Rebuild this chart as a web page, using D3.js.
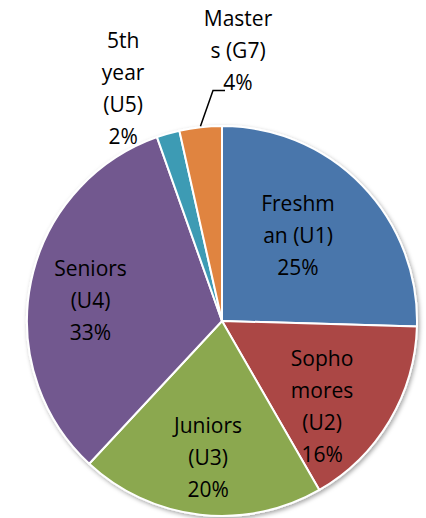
<!DOCTYPE html>
<html>
<head>
<meta charset="utf-8">
<script src="https://cdn.jsdelivr.net/npm/d3@7"></script>
<style>
  html, body { margin: 0; padding: 0; background: #fff; }
  text { font-family: "Open Sans", sans-serif; }
</style>
</head>
<body>
<div id="container"></div>
<script>
const WIDTH = 426;
const HEIGHT = 518;
const CX = 222;
const CY = 321;
const RADIUS = 195;
const LINE_HEIGHT = 32;

// data, clockwise from 12 o'clock
var categories = ["Freshman (U1)", "Sophomores (U2)", "Juniors (U3)", "Seniors (U4)", "5th year (U5)", "Masters (G7)"];
var shares = [25.4, 16.2, 20.2, 32.6, 1.9, 3.5];
var percentLabels = ["25%", "16%", "20%", "33%", "2%", "4%"];
// category names as wrapped by the chart
var nameLines = [["Freshm", "an (U1)"], ["Sopho", "mores", "(U2)"], ["Juniors", "(U3)"], ["Seniors", "(U4)"], ["5th", "year", "(U5)"], ["Master", "s (G7)"]];

var colors = ["#4876ab", "#ab4745", "#8ba84f", "#72598f", "#3e9bb4", "#e0843f"];
// label centre in polar coords around the pie centre: angle (deg, clockwise from top), distance (px)
var labelPlace = [[41.8, 114], [130.7, 132], [185.8, 138], [278.6, 133], [336.9, 252], [3.4, 270]];

var svg = d3.select("#container").append("svg")
    .attr("width", WIDTH)
    .attr("height", HEIGHT);

var defs = svg.append("defs");
var shadow = defs.append("filter").attr("id", "shadow")
    .attr("x", "-10%").attr("y", "-10%").attr("width", "120%").attr("height", "120%");
shadow.append("feDropShadow")
    .attr("dx", 1.5).attr("dy", 2).attr("stdDeviation", 2.2)
    .attr("flood-color", "#000").attr("flood-opacity", 0.35);

var pie = d3.pie().sort(null).value(function (d) { return d; });
var arcs = pie(shares);
var arc = d3.arc().innerRadius(0).outerRadius(RADIUS);

var g = svg.append("g").attr("transform", "translate(" + CX + "," + CY + ")");

g.append("g").attr("filter", "url(#shadow)")
    .selectAll("path")
    .data(arcs)
    .enter().append("path")
    .attr("d", arc)
    .attr("fill", function (d, i) { return colors[i]; })
    .attr("stroke", "#fff")
    .attr("stroke-width", 2)
    .attr("stroke-linejoin", "round");

var polar = function (deg, r) {
    var a = deg * Math.PI / 180;
    return [r * Math.sin(a), -r * Math.cos(a)];
};

var labels = g.selectAll(".label")
    .data(arcs)
    .enter().append("text")
    .attr("class", "label")
    .attr("text-anchor", "middle")
    .attr("font-size", 21)
    .attr("fill", "#000");

labels.each(function (d, i) {
    var lines = nameLines[i].concat([percentLabels[i]]);
    var p = polar(labelPlace[i][0], labelPlace[i][1]);
    var firstBaseline = p[1] - (lines.length - 1) * LINE_HEIGHT / 2 + 7;
    var t = d3.select(this);
    lines.forEach(function (line, k) {
        t.append("tspan")
            .attr("x", p[0])
            .attr("y", firstBaseline + k * LINE_HEIGHT)
            .text(line);
    });
});

// leader line for the small Masters slice
var mi = 5;
var mid = (arcs[mi].startAngle + arcs[mi].endAngle) / 2 * 180 / Math.PI;
var start = polar(mid, RADIUS + 1);
var lp = polar(labelPlace[mi][0], labelPlace[mi][1]);
var lastBaseline = lp[1] - (nameLines[mi].length) * LINE_HEIGHT / 2 + 7 + nameLines[mi].length * LINE_HEIGHT;
var endPt = [lp[0] - 13, lastBaseline];
var elbow = [endPt[0] - 12, endPt[1]];
g.append("path")
    .attr("d", d3.line()([start, elbow, endPt]))
    .attr("fill", "none")
    .attr("stroke", "#000")
    .attr("stroke-width", 1.5);
</script>
</body>
</html>
